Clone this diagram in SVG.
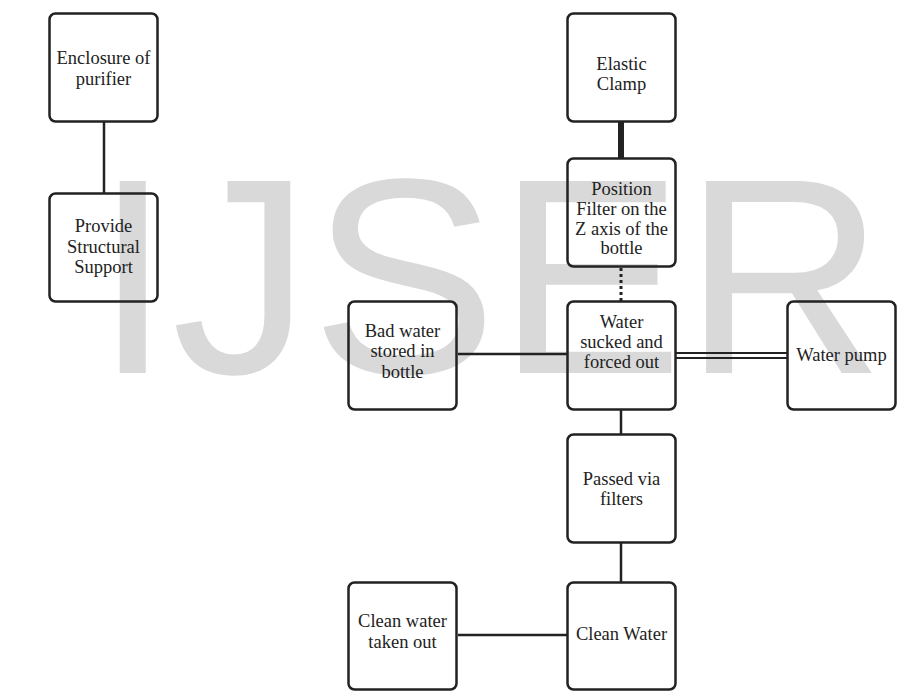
<svg xmlns="http://www.w3.org/2000/svg" width="918" height="693" viewBox="0 0 918 693">
<style>
.box{fill:none;stroke:#222;stroke-width:2.5}
.lbl{font-size:18.5px;fill:#222;text-anchor:middle}
.ln{stroke:#222;stroke-width:2.5;fill:none}
.wm{font-size:279px;fill:#d9d9d9}
</style>
<rect width="918" height="693" fill="#fff"/>
<text class="wm" font-family="'Liberation Sans', Arial, sans-serif" x="94" y="373">IJSER</text>
<g id="connectors">
<line class="ln" x1="104" y1="122" x2="104" y2="193"/>
<line class="ln" x1="621" y1="122" x2="621" y2="158" style="stroke-width:6"/>
<line class="ln" x1="621" y1="268" x2="621" y2="301" style="stroke-width:3;stroke-dasharray:3 3"/>
<line class="ln" x1="458" y1="354" x2="567" y2="354"/>
<line class="ln" x1="675" y1="353" x2="787" y2="353" style="stroke-width:2"/>
<line class="ln" x1="675" y1="358" x2="787" y2="358" style="stroke-width:2"/>
<line class="ln" x1="621" y1="410" x2="621" y2="434"/>
<line class="ln" x1="621" y1="542" x2="621" y2="582"/>
<line class="ln" x1="458" y1="635" x2="567" y2="635"/>
</g>
<g font-family="'Liberation Serif', 'Times New Roman', 'DejaVu Serif', serif">
<g id="enclosure">
<rect class="box" x="49.5" y="13.5" width="108" height="108" rx="6"/>
<text class="lbl" x="103.5" y="64">Enclosure of</text>
<text class="lbl" x="103.5" y="85">purifier</text>
</g>
<g id="support">
<rect class="box" x="49.5" y="193.5" width="108" height="108" rx="6"/>
<text class="lbl" x="103.5" y="232">Provide</text>
<text class="lbl" x="103.5" y="253">Structural</text>
<text class="lbl" x="103.5" y="273">Support</text>
</g>
<g id="clamp">
<rect class="box" x="567.5" y="13.5" width="108" height="108" rx="6"/>
<text class="lbl" x="621.5" y="70">Elastic</text>
<text class="lbl" x="621.5" y="90">Clamp</text>
</g>
<g id="position">
<rect class="box" x="567.5" y="158.5" width="108" height="108" rx="6"/>
<text class="lbl" x="621.5" y="195">Position</text>
<text class="lbl" x="621.5" y="215">Filter on the</text>
<text class="lbl" x="621.5" y="235">Z axis of the</text>
<text class="lbl" x="621.5" y="254">bottle</text>
</g>
<g id="sucked">
<rect class="box" x="567.5" y="301.5" width="108" height="108" rx="6"/>
<text class="lbl" x="621.5" y="328">Water</text>
<text class="lbl" x="621.5" y="348">sucked and</text>
<text class="lbl" x="621.5" y="368">forced out</text>
</g>
<g id="badwater">
<rect class="box" x="348.5" y="301.5" width="108" height="108" rx="6"/>
<text class="lbl" x="402.5" y="337">Bad water</text>
<text class="lbl" x="402.5" y="357">stored in</text>
<text class="lbl" x="402.5" y="378">bottle</text>
</g>
<g id="pump">
<rect class="box" x="787.5" y="301.5" width="108" height="108" rx="6"/>
<text class="lbl" x="841.5" y="361">Water pump</text>
</g>
<g id="filters">
<rect class="box" x="567.5" y="434.5" width="108" height="108" rx="6"/>
<text class="lbl" x="621.5" y="485">Passed via</text>
<text class="lbl" x="621.5" y="505">filters</text>
</g>
<g id="clean">
<rect class="box" x="567.5" y="582.5" width="108" height="107" rx="6"/>
<text class="lbl" x="621.5" y="640">Clean Water</text>
</g>
<g id="takenout">
<rect class="box" x="348.5" y="582.5" width="108" height="107" rx="6"/>
<text class="lbl" x="402.5" y="627">Clean water</text>
<text class="lbl" x="402.5" y="648">taken out</text>
</g>
</g>
</svg>
